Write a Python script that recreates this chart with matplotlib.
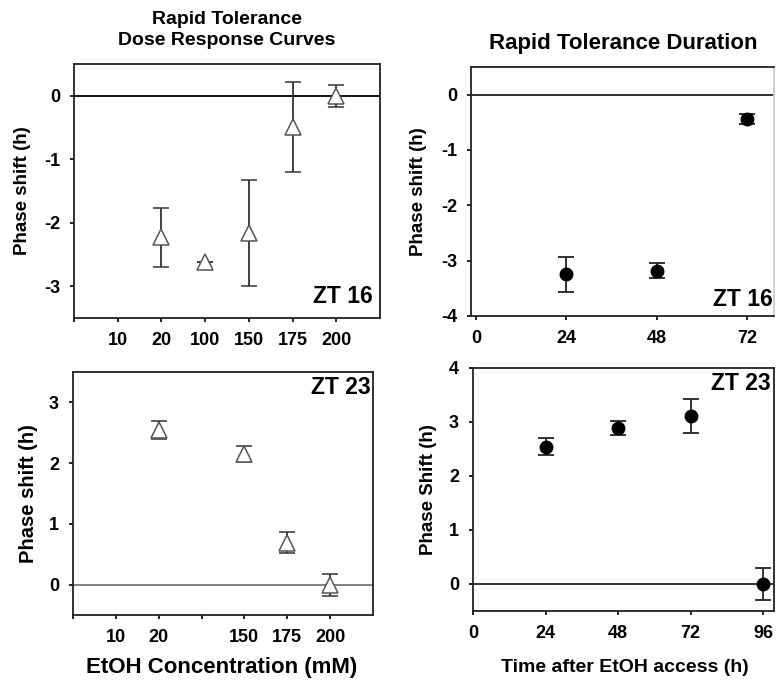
import matplotlib
matplotlib.use("Agg")
import matplotlib.pyplot as plt

plt.rcParams['font.family'] = ['Liberation Sans', 'DejaVu Sans']
plt.rcParams['font.weight'] = 'bold'

# ---- data ----
dose_labels_zt16 = ['', '10', '20', '100', '150', '175', '200']
dose_labels_zt23 = ['', '10', '20', '', '150', '175', '200']
dose_pos_zt16 = [2, 3, 4, 5, 6]          # 20, 100, 150, 175, 200 mM
dose_zt16 = [-2.23, -2.62, -2.16, -0.49, 0.0]
dose_zt16_err = [0.47, 0.0, 0.83, 0.71, 0.17]
dose_pos_zt23 = [2, 4, 5, 6]             # 20, 150, 175, 200 mM
dose_zt23 = [2.55, 2.15, 0.69, 0.0]
dose_zt23_err = [0.15, 0.13, 0.17, 0.18]

dur_hours_zt16 = [24, 48, 72]
dur_zt16 = [-3.245, -3.18, -0.44]
dur_zt16_err = [0.32, 0.14, 0.09]
dur_hours_zt23 = [24, 48, 72, 96]
dur_zt23 = [2.54, 2.89, 3.11, 0.0]
dur_zt23_err = [0.155, 0.13, 0.32, 0.29]

W, H = 776, 681
fig = plt.figure(figsize=(W / 100, H / 100), dpi=100)

def ax_px(x0, y0, x1, y1):
    return fig.add_axes([x0 / W, 1 - y1 / H, (x1 - x0) / W, (y1 - y0) / H])

def ylabel_at(ax, text, px, size, x0, w):
    ax.set_ylabel(text, fontsize=size, fontweight='bold', va='center')
    ax.yaxis.set_label_coords((px - x0) / w, 0.5)

def xlabel_at(ax, text, px, py, size, x0, y0, w, h):
    ax.set_xlabel(text, fontsize=size, fontweight='bold', va='center')
    ax.xaxis.set_label_coords((px - x0) / w, (y0 + h - py) / h)

tick_fs = 13

def style(ax):
    for s in ax.spines.values():
        s.set_linewidth(1.3)
        s.set_color('#222222')
    ax.tick_params(direction='out', length=3, width=1.2, labelsize=tick_fs, pad=7)
    for t in ax.get_xticklabels() + ax.get_yticklabels():
        t.set_fontweight('bold')

tri = dict(fmt='^', ms=11.5, mfc='white', mec='#555555', mew=1.1,
           ecolor='#333333', elinewidth=1.3, capsize=6, capthick=1.3, ls='none')
dot = dict(fmt='o', ms=9, mfc='black', mec='black',
           ecolor='#222222', elinewidth=1.3, capsize=6, capthick=1.3, ls='none')

# Top-left
x0, y0, x1, y1 = 74, 64, 380, 318
ax1 = ax_px(x0, y0, x1, y1)
ax1.axhline(0, color='black', lw=1.3, zorder=1)
ax1.errorbar(dose_pos_zt16, dose_zt16, yerr=dose_zt16_err, zorder=3, **tri)
ax1.set_xlim(0, 7)
ax1.set_ylim(-3.5, 0.5)
ax1.set_xticks(range(7))
ax1.set_xticklabels(dose_labels_zt16)
ax1.set_yticks([0, -1, -2, -3])
ax1.set_yticklabels(['0', '-1', '-2', '-3'])
ylabel_at(ax1, 'Phase shift (h)', 23, 13.5, x0, x1 - x0)
ax1.text(0.975, 0.04, 'ZT 16', transform=ax1.transAxes, ha='right', va='bottom',
         fontsize=16.5, fontweight='bold')
style(ax1)

# Bottom-left
x0, y0, x1, y1 = 73, 372, 373, 615
ax2 = ax_px(x0, y0, x1, y1)
ax2.axhline(0, color='#777777', lw=1.3, zorder=1)
ax2.errorbar(dose_pos_zt23, dose_zt23, yerr=dose_zt23_err, zorder=3, **tri)
ax2.set_xlim(0, 7)
ax2.set_ylim(-0.5, 3.5)
ax2.set_xticks(range(7))
ax2.set_xticklabels(dose_labels_zt23)
ax2.set_yticks([0, 1, 2, 3])
ylabel_at(ax2, 'Phase shift (h)', 28, 14.5, x0, x1 - x0)
xlabel_at(ax2, 'EtOH Concentration (mM)', 222, 667, 16, x0, y0, x1 - x0, y1 - y0)
ax2.text(0.993, 0.985, 'ZT 23', transform=ax2.transAxes, ha='right', va='top',
         fontsize=16.5, fontweight='bold')
style(ax2)

# Top-right
x0, y0, x1, y1 = 471, 67, 774, 316
ax3 = ax_px(x0, y0, x1, y1)
ax3.axhline(0, color='#222222', lw=1.3, zorder=1)
ax3.errorbar(dur_hours_zt16, dur_zt16, yerr=dur_zt16_err, zorder=3, **dot)
ax3.set_xlim(-1.3, 79.1)
ax3.set_ylim(-4, 0.5)
ax3.set_xticks([0, 24, 48, 72])
ax3.set_yticks([0, -1, -2, -3, -4])
ax3.set_yticklabels(['0', '-1', '-2', '-3', '-4'])
ylabel_at(ax3, 'Phase shift (h)', 419, 13.5, x0, x1 - x0)
ax3.text(0.995, 0.02, 'ZT 16', transform=ax3.transAxes, ha='right', va='bottom',
         fontsize=16.5, fontweight='bold')
style(ax3)
ax3.spines['right'].set_color('#cccccc')

# Bottom-right
x0, y0, x1, y1 = 473, 368, 774, 611
ax4 = ax_px(x0, y0, x1, y1)
ax4.axhline(0, color='#222222', lw=1.3, zorder=1)
ax4.errorbar(dur_hours_zt23, dur_zt23, yerr=dur_zt23_err, zorder=3, **dot)
ax4.set_xlim(0, 99.6)
ax4.set_ylim(-0.5, 4)
ax4.set_xticks([0, 24, 48, 72, 96])
ax4.set_yticks([0, 1, 2, 3, 4])
ylabel_at(ax4, 'Phase Shift (h)', 428, 13.5, x0, x1 - x0)
xlabel_at(ax4, 'Time after EtOH access (h)', 625, 667, 14, x0, y0, x1 - x0, y1 - y0)
ax4.text(0.99, 0.985, 'ZT 23', transform=ax4.transAxes, ha='right', va='top',
         fontsize=16.5, fontweight='bold')
style(ax4)

# Titles
fig.text(227 / W, 1 - 30 / H, 'Rapid Tolerance\nDose Response Curves', ha='center',
         va='center', fontsize=14, fontweight='bold', linespacing=1.35)
fig.text(623 / W, 1 - 44 / H, 'Rapid Tolerance Duration', ha='center', va='center',
         fontsize=16, fontweight='bold')

fig.savefig('out.png', dpi=100)
